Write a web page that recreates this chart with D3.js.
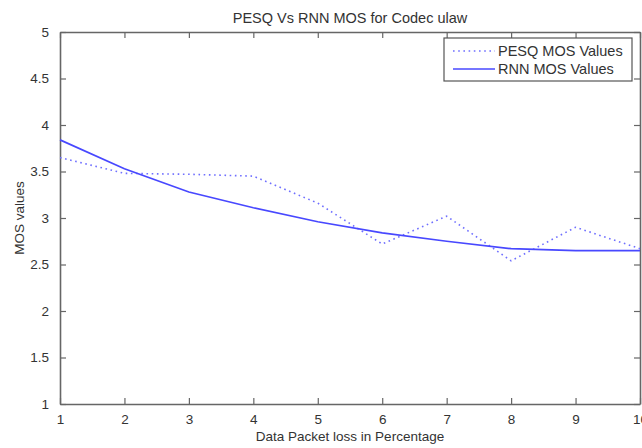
<!DOCTYPE html>
<html>
<head>
<meta charset="utf-8">
<script src="https://cdn.jsdelivr.net/npm/d3@7"></script>
<style>
    body { margin: 0; background: #fff; }
    text { font-family: "Liberation Sans", Arial, sans-serif; fill: #333; }
    .axis path, .axis line { stroke: #666; }
</style>
</head>
<body>
<div id="chart"></div>
<script>
// values
var loss_pct = [1, 2, 3, 4, 5, 6, 7, 8, 9, 10];
var pesq_mos = [3.65, 3.48, 3.47, 3.45, 3.16, 2.72, 3.02, 2.54, 2.90, 2.67];
var rnn_mos = [3.84, 3.53, 3.28, 3.11, 2.96, 2.84, 2.75, 2.67, 2.65, 2.65];
var x_ticks = [1, 2, 3, 4, 5, 6, 7, 8, 9, 10];
var y_ticks = [1, 1.5, 2, 2.5, 3, 3.5, 4, 4.5, 5];
var series_names = ['PESQ MOS Values', 'RNN MOS Values'];

class mos_linechart {
    constructor(parent) {
        this.svg = d3.select(parent).append('svg').attr('width', 642).attr('height', 448);
        this.left = 60; this.right = 640; this.top = 32; this.bottom = 404;
        this.draw_chart();
    }
    draw_chart() {
        var svg = this.svg;
        var x_scale = d3.scaleLinear().domain([1, 10]).range([this.left, this.right]);
        var y_scale = d3.scaleLinear().domain([1, 5]).range([this.bottom, this.top]);
        var w = this.right - this.left, h = this.bottom - this.top;

        // box with inward ticks on all four sides, like matlab
        svg.append('g').attr('class', 'axis').attr('transform', 'translate(0,' + this.bottom + ')')
            .call(d3.axisBottom(x_scale).tickValues(x_ticks).tickSizeInner(-6).tickSizeOuter(0).tickPadding(10).tickFormat(d3.format('d')));
        svg.append('g').attr('class', 'axis').attr('transform', 'translate(0,' + this.top + ')')
            .call(d3.axisTop(x_scale).tickValues(x_ticks).tickSizeInner(-6).tickSizeOuter(0).tickFormat(''));
        svg.append('g').attr('class', 'axis').attr('transform', 'translate(' + this.left + ',0)')
            .call(d3.axisLeft(y_scale).tickValues(y_ticks).tickSizeInner(-6).tickSizeOuter(0).tickPadding(11).tickFormat(d3.format('')));
        svg.append('g').attr('class', 'axis').attr('transform', 'translate(' + this.right + ',0)')
            .call(d3.axisRight(y_scale).tickValues(y_ticks).tickSizeInner(-6).tickSizeOuter(0).tickFormat(''));
        svg.selectAll('.axis path').attr('stroke-width', 1.6);
        svg.selectAll('.axis line').attr('stroke-width', 1.2);
        svg.selectAll('.axis text').attr('font-size', '13.5px').attr('fill', '#333');

        var line = d3.line().x((d, i) => x_scale(loss_pct[i])).y(d => y_scale(d));
        svg.append('path').datum(pesq_mos).attr('d', line)
            .attr('fill', 'none').attr('stroke', '#6f6fff').attr('stroke-width', 1.6)
            .attr('stroke-dasharray', '1.6,3.6');
        svg.append('path').datum(rnn_mos).attr('d', line)
            .attr('fill', 'none').attr('stroke', '#4848ff').attr('stroke-width', 1.7);

        svg.append('text').text('PESQ Vs RNN MOS for Codec ulaw')
            .attr('x', this.left + w / 2).attr('y', 23).attr('text-anchor', 'middle').attr('font-size', '14.5px');
        svg.append('text').text('Data Packet loss in Percentage')
            .attr('x', this.left + w / 2).attr('y', 441).attr('text-anchor', 'middle').attr('font-size', '13.5px');
        svg.append('text').text('MOS values')
            .attr('transform', 'translate(24,' + (this.top + h / 2) + ') rotate(-90)')
            .attr('text-anchor', 'middle').attr('font-size', '13.5px');

        this.create_legend();
    }
    create_legend() {
        var g = this.svg.append('g').attr('class', 'legend');
        g.append('rect').attr('x', 444).attr('y', 38).attr('width', 188).attr('height', 43)
            .attr('fill', '#fff').attr('stroke', '#555').attr('stroke-width', 1.2);
        var styles = [{ dash: '1.6,3.6', color: '#6f6fff' }, { dash: null, color: '#4848ff' }];
        for (var i = 0; i < series_names.length; i++) {
            var cy = 51 + i * 18;
            g.append('line').attr('x1', 453).attr('x2', 495).attr('y1', cy).attr('y2', cy)
                .attr('stroke', styles[i].color).attr('stroke-width', 1.6)
                .attr('stroke-dasharray', styles[i].dash);
            g.append('text').text(series_names[i]).attr('x', 498).attr('y', cy + 5).attr('font-size', '14.5px');
        }
    }
}

new mos_linechart('#chart');
</script>
</body>
</html>
